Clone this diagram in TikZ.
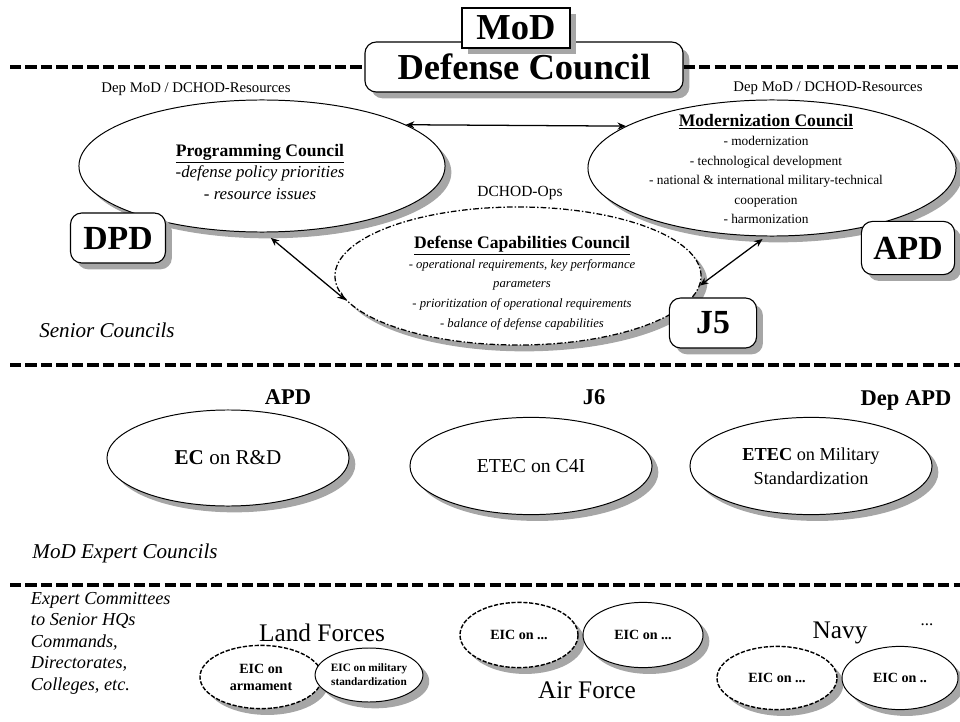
\documentclass[tikz,border=0pt]{standalone}
\usepackage{fontspec}
\setmainfont{Liberation Serif}
\usetikzlibrary{arrows.meta,positioning,shapes.geometric,shadows}

\newcommand{\fsz}[2]{\fontsize{#1}{#2}\selectfont}

\begin{document}
\begin{tikzpicture}[x=0.025cm,y=-0.025cm,>={Stealth[length=6pt,width=5pt]}]

    \tikzstyle{shadowed}=[drop shadow={shadow xshift=4.5pt,shadow yshift=-4.5pt,fill=black!35,opacity=1}]
    \tikzstyle{sep}=[line width=2.2pt,dash pattern=on 8pt off 3pt]
    \tikzstyle{office}=[draw,line width=0.8pt,fill=white,rounded corners=8pt,shadowed,font=\fsz{24}{28}\bfseries]
    \tikzstyle{council}=[ellipse,draw,line width=0.7pt,fill=white,shadowed,inner sep=0pt]
    \tikzstyle{expert}=[council,dash pattern=on 3pt off 1.2pt,line width=1pt]
    \tikzstyle{note}=[font=\fsz{10.5}{12}]
    \tikzstyle{chair}=[font=\fsz{16}{18}\bfseries]
    \tikzstyle{band}=[font=\fsz{15}{17}\itshape]
    \tikzstyle{service}=[font=\fsz{18}{20}]
    \tikzstyle{eic}=[font=\fsz{10}{12}\bfseries,align=center]

    \useasboundingbox (0,0) rectangle (960,722);

    % ministry level
    \node[office,minimum width=7.95cm,minimum height=1.25cm,font=\fsz{26}{30}\bfseries]
        (dc) at (524,67) {Defense Council};
    \node[draw,line width=0.8pt,fill=white,shadowed,minimum width=2.7cm,minimum height=1cm,font=\fsz{26}{30}\bfseries]
        (mod) at (516,28) {MoD};

    \coordinate (l1) at (10,67);
    \coordinate (r1) at (960,67);
    \draw[sep] (l1) -- (dc.west);
    \draw[sep] (dc.east) -- (r1);

    % senior councils
    \node[council,minimum width=9.15cm,minimum height=3.3cm] (pc) at (262,166) {};
    \node[council,minimum width=9.2cm,minimum height=3.4cm]  (mc) at (772,168) {};
    \node[council,minimum width=9.15cm,minimum height=3.45cm,line width=0.9pt,dash pattern=on 4pt off 1.5pt on 1pt off 1.5pt]
        (dcc) at (518,276) {};

    \node[note] (pcnote) at (196,89) {Dep MoD / DCHOD-Resources};
    \node[note] (mcnote) at (828,88) {Dep MoD / DCHOD-Resources};
    \node[note,font=\fsz{11}{13}] (dccnote) at (520,193) {DCHOD-Ops};

    \node[align=center,font=\fsz{12}{15.5}\itshape] (pctext) at (260,172)
        {{\fsz{12.5}{15.5}\upshape\bfseries\underline{Programming Council}}\\
         -defense policy priorities\\
         - resource issues};
    \node[align=center,font=\fsz{9.5}{13.8}] (mctext) at (766,169)
        {{\fsz{12.5}{16}\bfseries\underline{Modernization Council}}\\
         - modernization\\
         - technological development\\
         - national \& international military-technical\\
         cooperation\\
         - harmonization};
    \node[align=center,font=\fsz{9}{14}\itshape] (dcctext) at (522,283)
        {{\fsz{12.5}{15}\upshape\bfseries\underline{Defense Capabilities Council}}\\
         - operational requirements, key performance\\
         parameters\\
         - prioritization of operational requirements\\
         - balance of defense capabilities};

    \node[office,minimum width=2.375cm,minimum height=1.25cm] (dpd) at (118,238) {DPD};
    \node[office,minimum width=2.33cm,minimum height=1.33cm]  (apd) at (908,248) {APD};
    \node[office,minimum width=2.18cm,minimum height=1.25cm]  (j5)  at (713,323) {J5};

    \path[<->,line width=0.9pt]
    (pc.16)  edge (mc.164)
    (pc.-88) edge [shorten <=6pt] (dcc.188)
    (mc.-95) edge [shorten <=3pt] (dcc.-3);

    \node[band] (senior) at (107,330) {Senior Councils};

    \coordinate (l2) at (10,365);
    \coordinate (r2) at (960,365);
    \draw[sep] (l2) -- (r2);

    % expert councils
    \node[chair] (apdx)   at (288,397) {APD};
    \node[chair] (j6)     at (594,397) {J6};
    \node[chair] (depapd) at (906,400) {Dep APD};

    \node[council,minimum width=6.05cm,minimum height=2.4cm,font=\fsz{15}{18}] (ecrd) at (228,458)
        {\textbf{EC} on R\&D};
    \node[council,minimum width=6.05cm,minimum height=2.43cm,font=\fsz{14}{17}] (c4i) at (531,466)
        {ETEC on C4I};
    \node[council,minimum width=6.05cm,minimum height=2.43cm,font=\fsz{13}{17},align=center] (milstd) at (811,466)
        {\textbf{ETEC} on Military\\Standardization};

    \node[band] (expertbd) at (125,553) {MoD Expert Councils};

    \coordinate (l3) at (10,585);
    \coordinate (r3) at (960,585);
    \draw[sep] (l3) -- (r3);

    % expert committees of the services
    \node[anchor=north west,align=left,font=\fsz{13}{15.3}\itshape] (committees) at (26,587)
        {Expert Committees\\to Senior HQs\\Commands,\\Directorates,\\Colleges, etc.};

    \node[service] (land) at (322,633) {Land Forces};
    \node[expert,minimum width=3.05cm,minimum height=1.58cm,eic] (arm) at (261,677) {EIC on\\armament};
    \node[council,minimum width=2.2cm,minimum height=1.35cm,eic,font=\fsz{8}{10}\bfseries] (std) at (369,675)
        {EIC on military\\standardization};

    \node[expert,minimum width=2.95cm,minimum height=1.63cm,eic] (air1) at (519,635) {EIC on ...};
    \node[council,minimum width=3cm,minimum height=1.63cm,eic]     (air2) at (643,635) {EIC on ...};
    \node[service] (air) at (587,690) {Air Force};

    \node[service] (navy) at (840,633) {Navy};
    \node[font=\fsz{12}{14}] (more) at (927,625) {...};
    \node[expert,minimum width=3cm,minimum height=1.58cm,eic] (navy1) at (777,678) {EIC on ...};
    \node[council,minimum width=2.9cm,minimum height=1.58cm,eic]  (navy2) at (900,678) {EIC on ..};

\end{tikzpicture}
\end{document}
